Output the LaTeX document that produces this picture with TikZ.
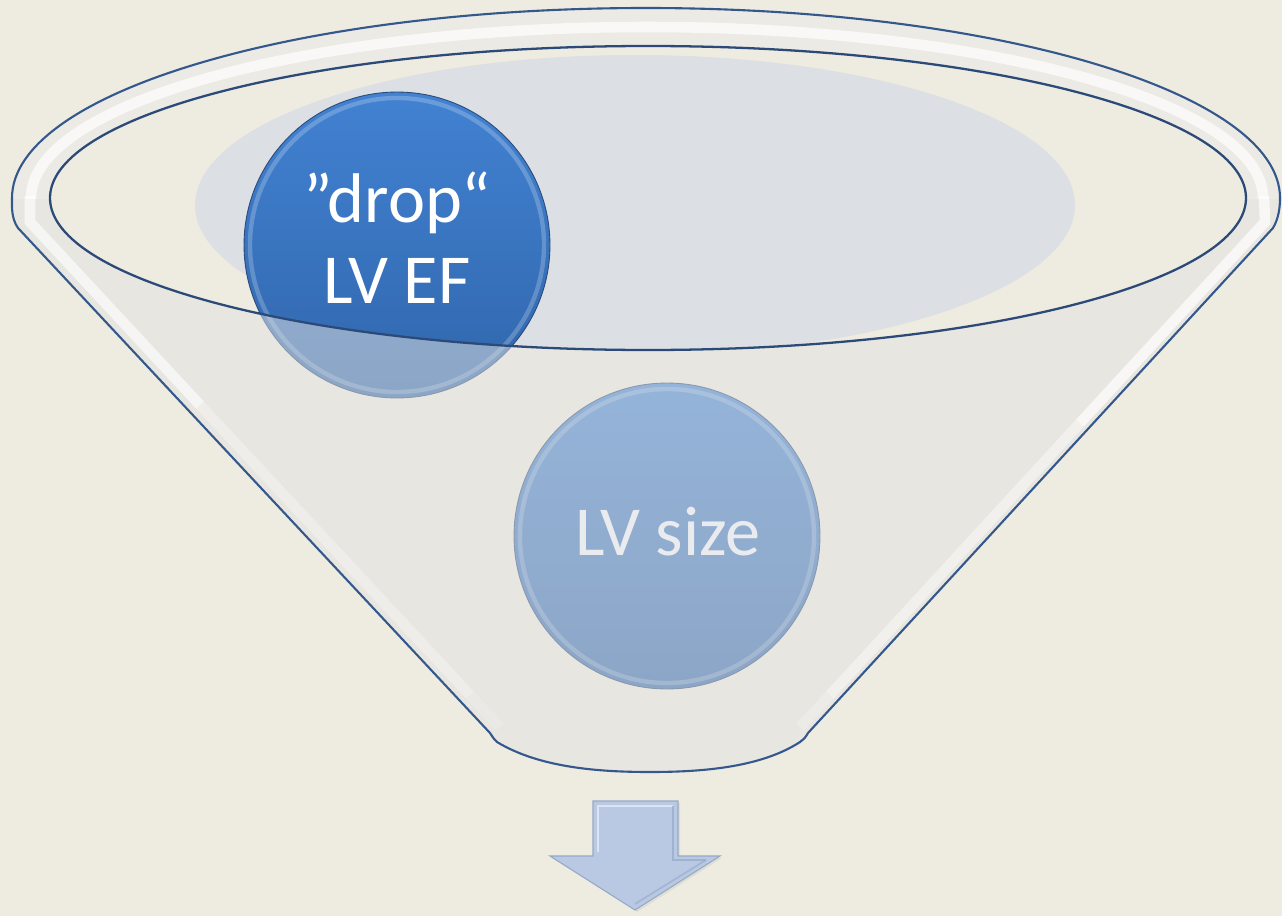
\documentclass[tikz,border=0pt]{standalone}
\usepackage{fontspec}
\setmainfont{Carlito}
\definecolor{bgc}{HTML}{EEEBE0}
\definecolor{wallc}{HTML}{E8E6E1}
\definecolor{rimc}{HTML}{ECEAE5}
\definecolor{liquid}{HTML}{DCDFE3}
\definecolor{linec}{HTML}{34588C}
\definecolor{navy}{HTML}{2B4A78}
\definecolor{blueTop}{HTML}{4282D2}
\definecolor{blueBot}{HTML}{3066AC}
\definecolor{arrowc}{HTML}{B9C9E3}
\definecolor{arrowl}{HTML}{95A9C8}
\definecolor{softtext}{HTML}{E9EBEE}
\tikzset{
  ball/.style={circle, inner sep=0pt, minimum size=6.12cm, top color=blueTop, bottom color=blueBot, draw=navy, line width=0.5pt},
  ring/.style={draw=white, opacity=0.22, line width=2.5pt},
  bigtext/.style={font=\fontsize{40}{46}\selectfont, text=white, inner sep=0pt, anchor=base},
  outline/.style={draw=linec, line width=1.2pt},
}
\def\bodypath{(18,228) .. controls (11,218) and (12,206) .. (12,198) arc[start angle=180,end angle=360,x radius=634,y radius=190] .. controls (1280,206) and (1279,218) .. (1273,228) -- (808,733) .. controls (805,738) .. (800,742) .. controls (760,768) and (700,772) .. (650,772) .. controls (600,772) and (540,768) .. (497,742) .. controls (494,739) .. (490,733) -- cycle}
\begin{document}
\begin{tikzpicture}[x=0.02cm,y=-0.02cm]
\fill[bgc] (0,0) rectangle (1282,916);
\useasboundingbox (0,0) rectangle (1282,916);
% funnel body
\fill[wallc] \bodypath;
% opening
\fill[bgc] (648,198) ellipse[x radius=598, y radius=152];
\begin{scope}
  \clip (648,198) ellipse[x radius=598, y radius=152];
  \fill[liquid] (635,205) ellipse[x radius=440, y radius=150];
\end{scope}
% balls
\node[ball] (drop) at (397,245) {};
\node[ball] (size) at (667,536) {};
\draw[ring] (drop.center) circle[radius=147];
\draw[ring] (size.center) circle[radius=147];
% front wall overlay
\fill[wallc, opacity=0.5, even odd rule] \bodypath (648,198) ellipse[x radius=598, y radius=152];
% rim band
\begin{scope}
  \clip (0,0) rectangle (1282,198);
  \fill[rimc, even odd rule] (646,198) ellipse[x radius=634, y radius=190] (648,198) ellipse[x radius=598, y radius=152];
  \draw[white, opacity=0.7, line width=6pt] (647,198) ellipse[x radius=616, y radius=171];
\end{scope}
% wall highlights
\begin{scope}
  \clip \bodypath;
  \draw[white, opacity=0.6, line width=6pt] (30,196) -- (30,222) -- (200,405);
  \draw[white, opacity=0.3, line width=6pt] (200,405) -- (470,695);
  \draw[white, opacity=0.15, line width=6pt] (470,695) -- (500,727);
  \draw[white, opacity=0.7, line width=6pt] (1264,196) -- (1265,222) -- (1080,423);
  \draw[white, opacity=0.4, line width=6pt] (1080,423) -- (830,695);
  \draw[white, opacity=0.2, line width=6pt] (830,695) -- (800,727);
\end{scope}
% outlines
\draw[outline] \bodypath;
\draw[draw=navy, line width=1.3pt] (648,198) ellipse[x radius=598, y radius=152];
% texts
\node[bigtext] (t1) at (397,222) {”drop“};
\node[bigtext] (t2) at (397,303) {LV EF};
\node[bigtext, text=softtext] (t3) at (668,555) {LV size};
% arrow
\fill[black, opacity=0.06] (595,803) -- (680,803) -- (680,858) -- (722,858) -- (637,912) -- (552,858) -- (595,858) -- cycle;
\filldraw[fill=arrowc, draw=arrowl, line width=0.6pt] (593,801) -- (678,801) -- (678,856) -- (720,856) -- (635,910) -- (550,856) -- (593,856) -- cycle;
\draw[white, opacity=0.5, line width=1pt] (598,852) -- (598,806) -- (673,806);
\draw[arrowl, opacity=0.7, line width=1pt] (673,806) -- (673,860) -- (706,860);
\draw[arrowl, opacity=0.6, line width=1pt] (706,860) -- (635,904);
\end{tikzpicture}
\end{document}
